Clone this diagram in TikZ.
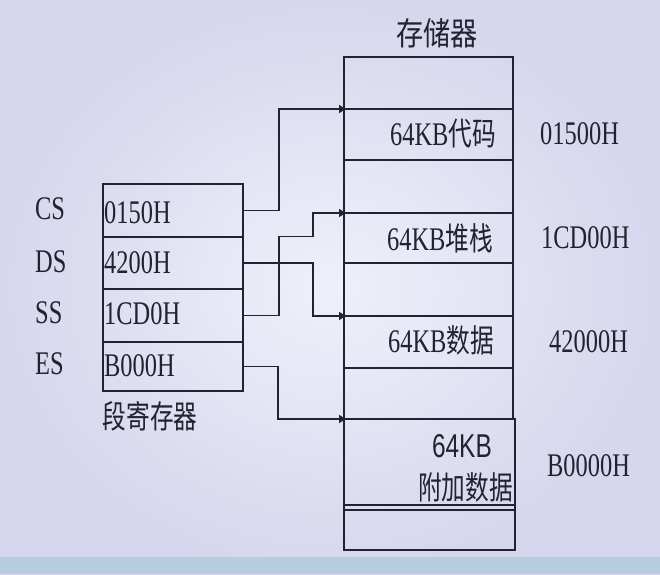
\documentclass[tikz,border=0pt]{standalone}
\usepackage{fontspec}
\setmainfont{Liberation Serif}
\newfontfamily\cjkf{Noto Sans CJK SC}
\newfontfamily\sansf{Liberation Sans}
\usetikzlibrary{arrows.meta}
\definecolor{bgin}{RGB}{240,240,250}
\definecolor{bgout}{RGB}{214,214,238}
\definecolor{bgedge}{RGB}{184,204,224}
\definecolor{ink}{RGB}{34,34,48}
\newcommand\nar[1]{\scalebox{0.74}[1]{#1}}
\newcommand\cj[1]{{\fontsize{32}{32}\cjkf #1}}
\begin{document}
\begin{tikzpicture}[x=1pt,y=-1pt,
  cell/.style={draw=ink, line width=1.5pt, minimum width=169pt, anchor=north west, inner sep=0pt, outer sep=0pt},
  regcell/.style={draw=ink, line width=1.5pt, minimum width=140pt, anchor=north west, inner sep=0pt, outer sep=0pt},
  txt/.style={inner sep=0pt, text=ink, font=\fontsize{33}{33}\selectfont},
  link/.style={draw=ink, line width=1.5pt, -{Triangle[length=7pt,width=8pt]}, shorten >=-2pt}]
\useasboundingbox (0,0) rectangle (660,574);
\shade[inner color=bgin, outer color=bgout] (0,0) rectangle (660,574);
\fill[bgedge] (0,557) rectangle (660,574);

% memory cells
\node[cell, minimum height=52pt] (m0) at (344,57) {};
\node[cell, minimum height=51pt] (m1) at (344,109) {};
\node[cell, minimum height=53pt] (m2) at (344,160) {};
\node[cell, minimum height=50pt] (m3) at (344,213) {};
\node[cell, minimum height=53pt] (m4) at (344,263) {};
\node[cell, minimum height=52pt] (m5) at (344,316) {};
\node[cell, minimum height=51pt] (m6) at (344,368) {};
\node[cell, minimum height=131pt, minimum width=171pt] (m7) at (344,419) {};
\draw[draw=ink, line width=1.5pt] (m7.west |- 0,505) coordinate (d1) -- (m7.east |- 0,505) coordinate (d2);
\draw[draw=ink, line width=1.5pt] (m7.west |- 0,510) coordinate (d3) -- (m7.east |- 0,510) coordinate (d4);

% segment registers
\node[regcell, minimum height=53pt] (r1) at (103,184) {};
\node[regcell, minimum height=52pt] (r2) at (103,237) {};
\node[regcell, minimum height=53pt] (r3) at (103,289) {};
\node[regcell, minimum height=49pt] (r4) at (103,342) {};

% connectors
\draw[link] (r1.east) -- ++(36,0) |- (m1.north west);
\draw[link] (r2.east) -- ++(70,0) |- (m5.north west);
\draw[link] (r3.east) -- ++(36,0) -- ++(0,-79) -- ++(34,0) |- (m3.north west);
\draw[link] (r4.east) -- ++(35,0) |- (m7.north west);

% titles
\node[txt] (title) at (437,33) {\scalebox{0.85}[1]{\cj{存储器}}};
\node[txt] (regtitle) at (150,416) {\nar{\cj{段寄存器}}};

% memory labels
\node[txt, anchor=east] (l1) at (496,134) {\nar{64KB\cj{代码}}};
\node[txt, anchor=east] (l3) at (493,238) {\nar{64KB\cj{堆栈}}};
\node[txt, anchor=east] (l5) at (494,340) {\nar{64KB\cj{数据}}};
\node[txt, anchor=east] (l7a) at (492,446) {\nar{\sansf 64KB}};
\node[txt, anchor=east] (l7b) at (513,487) {\nar{\cj{附加数据}}};

% addresses
\node[txt, anchor=west] (a1) at (540,134) {\nar{01500H}};
\node[txt, anchor=west] (a3) at (541,238) {\nar{1CD00H}};
\node[txt, anchor=west] (a5) at (549,342) {\nar{42000H}};
\node[txt, anchor=west] (a7) at (547,466) {\nar{B0000H}};

% register names
\node[txt, anchor=west] (cs) at (35,209) {\nar{CS}};
\node[txt, anchor=west] (ds) at (35,262) {\nar{DS}};
\node[txt, anchor=west] (ss) at (35,313) {\nar{SS}};
\node[txt, anchor=west] (es) at (35,364) {\nar{ES}};

% register values
\node[txt, anchor=west] (v1) at (104,213) {\nar{0150H}};
\node[txt, anchor=west] (v2) at (104,263) {\nar{4200H}};
\node[txt, anchor=west] (v3) at (104,314) {\nar{1CD0H}};
\node[txt, anchor=west] (v4) at (104,366) {\nar{B000H}};
\end{tikzpicture}
\end{document}
